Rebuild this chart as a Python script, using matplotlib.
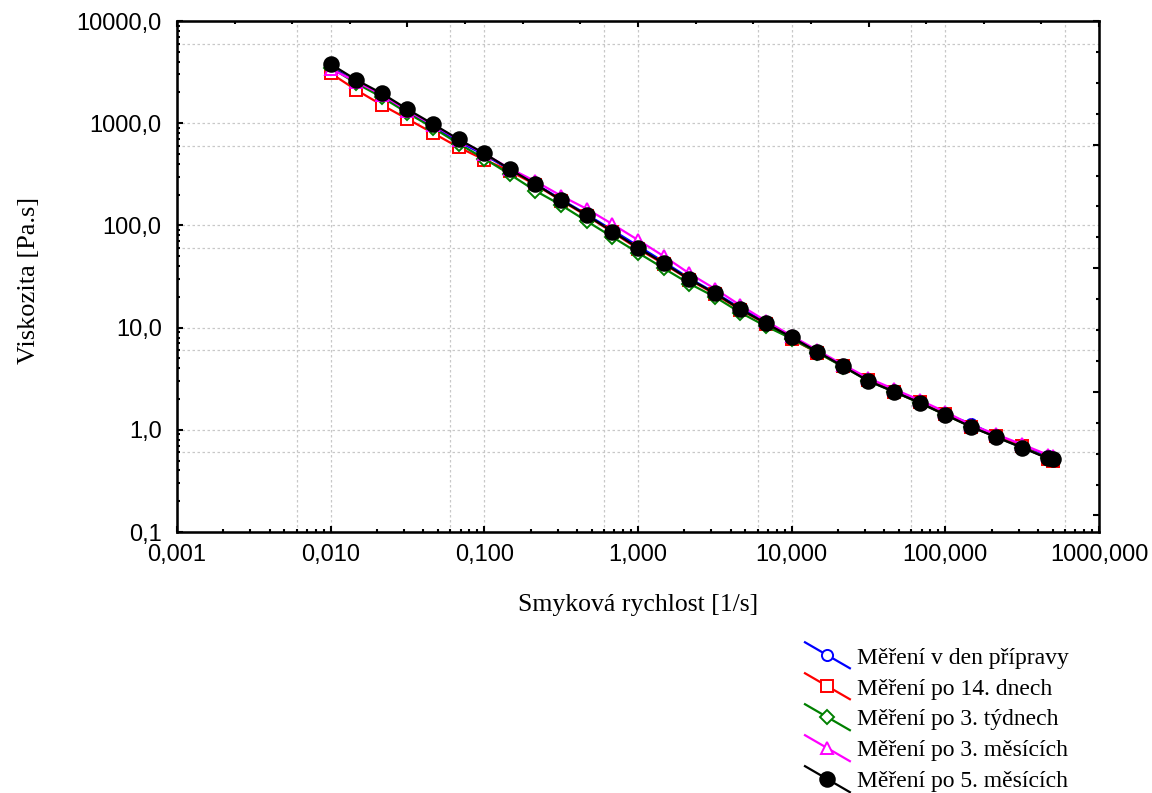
import numpy as np
import matplotlib
matplotlib.use('Agg')
import matplotlib.pyplot as plt
from matplotlib.lines import Line2D
from matplotlib.legend_handler import HandlerLine2D
from matplotlib.ticker import FuncFormatter, LogLocator, MultipleLocator, NullFormatter

# shear rate [1/s]
shear = [0.01, 0.0147, 0.0215, 0.0316, 0.0464, 0.0681, 0.1, 0.147, 0.215, 0.316,
         0.464, 0.681, 1.0, 1.47, 2.15, 3.16, 4.64, 6.81, 10.0, 14.7,
         21.5, 31.6, 46.4, 68.1, 100.0, 147.0, 215.0, 316.0, 464.0, 500.0]

# viscosity [Pa.s]
visc_den = [3600, 2500, 1850, 1300, 930, 660, 490, 350, 255, 180,
            128, 90, 63, 44, 30.5, 22, 15.5, 11.2, 8.1, 5.9,
            4.25, 3.05, 2.4, 1.86, 1.42, 1.15, 0.87, 0.68, 0.55, 0.53]
visc_14d = [3080, 2110, 1510, 1100, 800, 580, 440, 340, 250, 175,
            124, 86, 59, 42, 29.5, 21.3, 14.9, 10.9, 7.7, 5.7,
            4.2, 3.1, 2.35, 1.85, 1.42, 1.07, 0.86, 0.69, 0.52, 0.50]
visc_3t = [3500, 2450, 1800, 1260, 900, 630, 450, 315, 218, 158,
           110, 77, 54, 38, 27, 20, 14, 10.3, 7.8, 5.7,
           4.15, 3.0, 2.35, 1.83, 1.40, 1.07, 0.85, 0.67, 0.53, 0.52]
visc_3m = [3400, 2550, 1900, 1330, 960, 690, 500, 360, 270, 195,
           145, 103, 72, 50, 34, 24, 16.5, 11.6, 8.3, 6.0,
           4.35, 3.2, 2.5, 1.95, 1.5, 1.12, 0.9, 0.72, 0.57, 0.55]
visc_5m = [3790, 2650, 1960, 1370, 980, 695, 507, 354, 253, 177,
           126, 87, 60.5, 42.6, 29.9, 21.7, 15.1, 11.0, 8.04, 5.81,
           4.2, 3.0, 2.36, 1.84, 1.40, 1.07, 0.845, 0.668, 0.526, 0.514]

labels = ['Měření v den přípravy', 'Měření po 14. dnech', 'Měření po 3. týdnech',
          'Měření po 3. měsících', 'Měření po 5. měsících']
series = [visc_den, visc_14d, visc_3t, visc_3m, visc_5m]
colors = ['#0000ff', '#ff0000', '#008000', '#ff00ff', '#000000']
markers = ['o', 's', 'D', '^', 'o']


class DiagHandler(HandlerLine2D):
    # legend key drawn as a diagonal line with the marker in the middle
    def create_artists(self, legend, orig_handle, xdescent, ydescent, width, height, fontsize, trans):
        x0, x1 = -xdescent, width - xdescent
        yc = height / 2 - ydescent
        dy = 0.55 * fontsize
        line = Line2D([x0, x1], [yc + dy, yc - dy])
        self.update_prop(line, orig_handle, legend)
        line.set_marker('None')
        mk = Line2D([(x0 + x1) / 2], [yc])
        self.update_prop(mk, orig_handle, legend)
        mk.set_linestyle('None')
        line.set_transform(trans)
        mk.set_transform(trans)
        return [line, mk]


fig = plt.figure(figsize=(11.52, 7.93), dpi=100)
ax = fig.add_axes([177/1152, 1 - 532/793, (1099-177)/1152, (532-21)/793])

handles = []
for y, c, m, lab in zip(series, colors, markers, labels):
    filled = lab.endswith('5. měsících')
    ms = 10.5 if filled else 8
    if m == 'D':
        ms = 7
    h, = ax.plot(shear, y, color=c, lw=1.6, marker=m, ms=ms,
                 mfc=c if filled else 'white', mec=c, mew=1.4, label=lab)
    handles.append(h)

ax.set_xscale('log')
ax.set_yscale('log')
ax.set_xlim(0.001, 1000)
ax.set_ylim(0.1, 10000)

ax.xaxis.set_major_locator(LogLocator(base=10, numticks=10))
ax.xaxis.set_minor_locator(LogLocator(base=10, subs=np.arange(2, 10), numticks=20))
ax.yaxis.set_major_locator(LogLocator(base=10, numticks=10))
ax.yaxis.set_minor_locator(LogLocator(base=10, subs=np.arange(2, 10), numticks=20))
ax.xaxis.set_major_formatter(FuncFormatter(lambda v, p: ('%.3f' % v).replace('.', ',')))
ax.yaxis.set_major_formatter(FuncFormatter(lambda v, p: ('%.1f' % v).replace('.', ',')))
ax.xaxis.set_minor_formatter(NullFormatter())
ax.yaxis.set_minor_formatter(NullFormatter())

ax.tick_params(which='both', direction='in', width=1.5, labelsize=17,
               bottom=True, left=True, top=False, right=False)
ax.tick_params(which='major', length=4)
ax.tick_params(which='minor', length=2.5)
ax.tick_params(axis='x', pad=9)
ax.tick_params(axis='y', pad=11)
for lab in ax.get_xticklabels() + ax.get_yticklabels():
    lab.set_fontfamily('Liberation Sans')

# dotted grid at each decade and at 6 x decade
gkw = dict(color='#c8c8c8', lw=0.9, ls=(0, (2, 2)), zorder=0)
for e in range(-3, 4):
    for f in (1, 6):
        v = f * 10.0 ** e
        if 0.001 < v < 1000:
            ax.axvline(v, **gkw)
for e in range(-1, 5):
    for f in (1, 6):
        v = f * 10.0 ** e
        if 0.1 < v < 10000:
            ax.axhline(v, **gkw)

for s in ax.spines.values():
    s.set_linewidth(1.8)

# secondary (unlabelled) axes on top and right with linear ticks
axt = ax.twiny()
axt.set_xlim(0, 4)
axt.xaxis.set_major_locator(MultipleLocator(1))
axt.xaxis.set_minor_locator(MultipleLocator(0.25))
axt.tick_params(axis='x', which='both', direction='in', width=1.5, labeltop=False, top=True)
axt.tick_params(axis='x', which='major', length=4)
axt.tick_params(axis='x', which='minor', length=2.5)
axr = ax.twinx()
axr.set_ylim(-0.134, 4)
axr.yaxis.set_major_locator(MultipleLocator(1))
axr.yaxis.set_minor_locator(MultipleLocator(0.25))
axr.tick_params(axis='y', which='both', direction='in', width=1.5, labelright=False, right=True)
axr.tick_params(axis='y', which='major', length=4)
axr.tick_params(axis='y', which='minor', length=2.5)

ax.set_xlabel('Smyková rychlost [1/s]', family='Liberation Serif', fontsize=18.5, labelpad=20)
ax.set_ylabel('Viskozita [Pa.s]', family='Liberation Serif', fontsize=19)
ax.yaxis.set_label_coords(-0.149, 0.493)

fig.legend(handles=handles, labels=labels, loc='upper left',
           bbox_to_anchor=(805/1152, 1 - 647/793), frameon=False,
           prop={'family': 'Liberation Serif', 'size': 17},
           handlelength=1.9, handletextpad=0.3, labelspacing=0.4,
           borderpad=0, borderaxespad=0,
           handler_map={Line2D: DiagHandler()})

fig.savefig('out.png', dpi=100)
